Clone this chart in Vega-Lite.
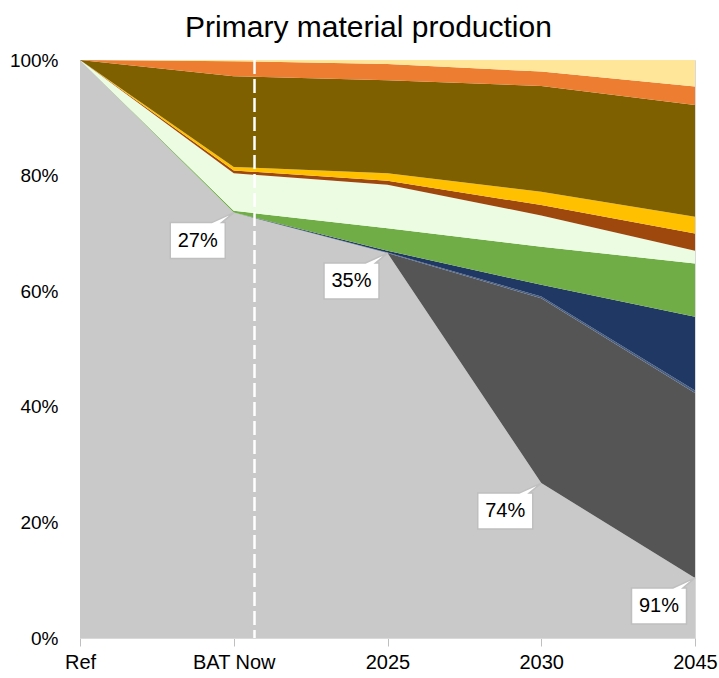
{
  "$schema": "https://vega.github.io/schema/vega-lite/v6.json",
  "width": 615,
  "height": 578,
  "autosize": "none",
  "padding": {"left": 80, "top": 60, "right": 24, "bottom": 40},
  "background": "white",
  "title": {
    "text": "Primary material production",
    "font": "Liberation Sans",
    "fontSize": 30,
    "fontWeight": "normal",
    "color": "black",
    "anchor": "middle",
    "frame": "group",
    "dx": -19,
    "dy": 20,
    "baseline": "alphabetic",
    "offset": 4
  },
  "config": {
    "view": {"stroke": "#D9D9D9", "strokeWidth": 1},
    "font": "Liberation Sans"
  },
  "datasets": {
    "areas": [
      {"series": "S01", "k": 1, "idx": 0, "v": 100},
      {"series": "S01", "k": 1, "idx": 1, "v": 73.6},
      {"series": "S01", "k": 1, "idx": 2, "v": 66.6},
      {"series": "S01", "k": 1, "idx": 3, "v": 26.8},
      {"series": "S01", "k": 1, "idx": 4, "v": 10.4},
      {"series": "S02", "k": 2, "idx": 0, "v": 0},
      {"series": "S02", "k": 2, "idx": 1, "v": 0},
      {"series": "S02", "k": 2, "idx": 2, "v": 0},
      {"series": "S02", "k": 2, "idx": 3, "v": 32.0},
      {"series": "S02", "k": 2, "idx": 4, "v": 32.0},
      {"series": "S03", "k": 3, "idx": 0, "v": 0},
      {"series": "S03", "k": 3, "idx": 1, "v": 0},
      {"series": "S03", "k": 3, "idx": 2, "v": 0.1},
      {"series": "S03", "k": 3, "idx": 3, "v": 0.3},
      {"series": "S03", "k": 3, "idx": 4, "v": 0.4},
      {"series": "S04", "k": 4, "idx": 0, "v": 0},
      {"series": "S04", "k": 4, "idx": 1, "v": 0},
      {"series": "S04", "k": 4, "idx": 2, "v": 0.3},
      {"series": "S04", "k": 4, "idx": 3, "v": 2.0},
      {"series": "S04", "k": 4, "idx": 4, "v": 12.8},
      {"series": "S05", "k": 5, "idx": 0, "v": 0},
      {"series": "S05", "k": 5, "idx": 1, "v": 0.3},
      {"series": "S05", "k": 5, "idx": 2, "v": 3.9},
      {"series": "S05", "k": 5, "idx": 3, "v": 6.6},
      {"series": "S05", "k": 5, "idx": 4, "v": 9.2},
      {"series": "S06", "k": 6, "idx": 0, "v": 0},
      {"series": "S06", "k": 6, "idx": 1, "v": 6.5},
      {"series": "S06", "k": 6, "idx": 2, "v": 7.5},
      {"series": "S06", "k": 6, "idx": 3, "v": 5.4},
      {"series": "S06", "k": 6, "idx": 4, "v": 2.2},
      {"series": "S07", "k": 7, "idx": 0, "v": 0},
      {"series": "S07", "k": 7, "idx": 1, "v": 0.5},
      {"series": "S07", "k": 7, "idx": 2, "v": 0.7},
      {"series": "S07", "k": 7, "idx": 3, "v": 1.8},
      {"series": "S07", "k": 7, "idx": 4, "v": 3.0},
      {"series": "S08", "k": 8, "idx": 0, "v": 0},
      {"series": "S08", "k": 8, "idx": 1, "v": 0.6},
      {"series": "S08", "k": 8, "idx": 2, "v": 1.3},
      {"series": "S08", "k": 8, "idx": 3, "v": 2.3},
      {"series": "S08", "k": 8, "idx": 4, "v": 2.9},
      {"series": "S09", "k": 9, "idx": 0, "v": 0},
      {"series": "S09", "k": 9, "idx": 1, "v": 15.7},
      {"series": "S09", "k": 9, "idx": 2, "v": 16.1},
      {"series": "S09", "k": 9, "idx": 3, "v": 18.3},
      {"series": "S09", "k": 9, "idx": 4, "v": 19.3},
      {"series": "S10", "k": 10, "idx": 0, "v": 0},
      {"series": "S10", "k": 10, "idx": 1, "v": 2.6},
      {"series": "S10", "k": 10, "idx": 2, "v": 2.8},
      {"series": "S10", "k": 10, "idx": 3, "v": 2.5},
      {"series": "S10", "k": 10, "idx": 4, "v": 3.2},
      {"series": "S11", "k": 11, "idx": 0, "v": 0},
      {"series": "S11", "k": 11, "idx": 1, "v": 0.2},
      {"series": "S11", "k": 11, "idx": 2, "v": 0.7},
      {"series": "S11", "k": 11, "idx": 3, "v": 2.0},
      {"series": "S11", "k": 11, "idx": 4, "v": 4.6}
    ],
    "labels": [
      {"idx": 1, "v": 73.6, "label": "27%"},
      {"idx": 2, "v": 66.6, "label": "35%"},
      {"idx": 3, "v": 26.8, "label": "74%"},
      {"idx": 4, "v": 10.4, "label": "91%"}
    ],
    "marker": [
      {"idx": 1.135}
    ]
  },
  "layer": [
    {
      "data": {"name": "areas"},
      "mark": {"type": "area", "opacity": 1},
      "encoding": {
        "x": {
          "field": "idx",
          "type": "quantitative",
          "scale": {"domain": [0, 4], "nice": false, "zero": false},
          "axis": {
            "title": null,
            "values": [0, 1, 2, 3, 4],
            "labelExpr": "['Ref','BAT Now','2025','2030','2045'][datum.value]",
            "grid": false,
            "domainColor": "#D9D9D9",
            "tickColor": "#BFBFBF",
            "tickSize": 8,
            "labelFontSize": 20,
            "labelColor": "black",
            "labelPadding": 6,
            "labelOverlap": false,
            "labelFlush": false
          }
        },
        "y": {
          "field": "v",
          "type": "quantitative",
          "stack": "zero",
          "scale": {"domain": [0, 100], "nice": false},
          "axis": {
            "title": null,
            "values": [0, 20, 40, 60, 80, 100],
            "labelExpr": "datum.value + '%'",
            "grid": false,
            "domain": false,
            "ticks": false,
            "labelFontSize": 19,
            "labelColor": "black",
            "labelPadding": 22
          }
        },
        "color": {
          "field": "series",
          "type": "nominal",
          "legend": null,
          "scale": {
            "domain": ["S01", "S02", "S03", "S04", "S05", "S06", "S07", "S08", "S09", "S10", "S11"],
            "range": ["#C9C9C9", "#555555", "#4A5F80", "#203864", "#70AD47", "#ECFCE2", "#9E480E", "#FFC000", "#7F6000", "#ED7D31", "#FFE699"]
          }
        },
        "order": {"field": "k", "type": "quantitative", "sort": "ascending"}
      }
    },
    {
      "data": {"name": "marker"},
      "mark": {"type": "rule", "color": "white", "strokeWidth": 2.5, "strokeDash": [14, 5]},
      "encoding": {
        "x": {"field": "idx", "type": "quantitative"}
      }
    },
    {
      "data": {"name": "labels"},
      "mark": {
        "type": "point",
        "shape": "M-0.635,0.10 L-0.22,0.10 L0,0 L-0.12,0.10 L-0.085,0.10 L-0.085,0.46 L-0.635,0.46 Z",
        "size": 40000,
        "filled": true,
        "fill": "white",
        "stroke": "#BFBFBF",
        "strokeWidth": 1.5,
        "opacity": 1
      },
      "encoding": {
        "x": {"field": "idx", "type": "quantitative"},
        "y": {"field": "v", "type": "quantitative"}
      }
    },
    {
      "data": {"name": "labels"},
      "mark": {"type": "text", "dx": -36, "dy": 28, "fontSize": 20, "color": "black", "baseline": "middle", "align": "center"},
      "encoding": {
        "x": {"field": "idx", "type": "quantitative"},
        "y": {"field": "v", "type": "quantitative"},
        "text": {"field": "label"}
      }
    }
  ]
}
